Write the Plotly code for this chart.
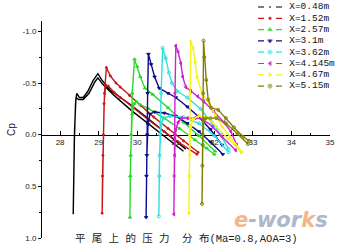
import plotly.graph_objects as go

# ---------------- data ----------------
station_names = ["X=0.48m", "X=1.52m", "X=2.57m", "X=3.1m",
                 "X=3.62m", "X=4.145m", "X=4.67m", "X=5.15m"]

# X=0.48m
x048_up = [28.34, 28.35, 28.37, 28.40, 28.43, 28.50, 28.60, 28.72, 28.85, 28.98, 29.08, 29.30, 29.60, 29.83, 30.20, 30.60, 31.00, 31.26]
cp048_up = [0.77, 0.45, 0.05, -0.30, -0.40, -0.36, -0.36, -0.42, -0.52, -0.59, -0.53, -0.43, -0.35, -0.29, -0.18, -0.06, 0.06, 0.14]
x048_lo = [28.34, 28.37, 28.41, 28.48, 28.60, 28.75, 28.90, 28.98, 29.10, 29.40, 29.83, 30.30, 30.80, 31.20]
cp048_lo = [0.77, 0.00, -0.36, -0.34, -0.34, -0.40, -0.51, -0.55, -0.49, -0.38, -0.24, -0.10, 0.05, 0.16]

# X=1.52m
x152_up = [29.09, 29.10, 29.12, 29.15, 29.20, 29.30, 29.45, 29.56, 29.80, 30.10, 30.43, 30.80, 31.20, 31.58]
cp152_up = [0.76, 0.40, 0.00, -0.40, -0.65, -0.57, -0.50, -0.46, -0.38, -0.28, -0.17, -0.06, 0.06, 0.17]
x152_lo = [29.09, 29.11, 29.14, 29.18, 29.25, 29.40, 29.56, 29.90, 30.30, 30.70, 31.10, 31.55]
cp152_lo = [0.76, 0.20, -0.30, -0.48, -0.47, -0.41, -0.36, -0.26, -0.14, -0.03, 0.08, 0.19]

# X=2.57m
x257_up = [29.81, 29.82, 29.84, 29.87, 29.93, 30.00, 30.08, 30.20, 30.40, 30.80, 31.20, 31.60, 32.02]
cp257_up = [0.80, 0.40, 0.00, -0.40, -0.73, -0.66, -0.56, -0.45, -0.39, -0.26, -0.12, 0.01, 0.16]
x257_lo = [29.81, 29.83, 29.87, 29.92, 29.98, 30.08, 30.30, 30.70, 31.10, 31.50, 31.80, 32.00]
cp257_lo = [0.80, 0.20, -0.20, -0.30, -0.32, -0.29, -0.25, -0.16, -0.06, 0.05, 0.13, 0.19]

# X=3.1m
x310_up = [30.23, 30.24, 30.26, 30.27, 30.29, 30.36, 30.45, 30.57, 30.80, 31.00, 31.30, 31.60, 31.90, 32.20]
cp310_up = [0.80, 0.40, 0.00, -0.40, -0.78, -0.68, -0.56, -0.45, -0.40, -0.36, -0.27, -0.17, -0.05, 0.10]
x310_lo = [30.23, 30.25, 30.28, 30.33, 30.45, 30.70, 31.00, 31.30, 31.60, 31.90, 32.22]
cp310_lo = [0.80, 0.20, -0.10, -0.20, -0.22, -0.21, -0.18, -0.11, -0.03, 0.07, 0.19]

# X=3.62m
x362_up = [30.56, 30.57, 30.59, 30.62, 30.66, 30.74, 30.82, 30.90, 31.04, 31.30, 31.64, 31.93, 32.16, 32.37]
cp362_up = [0.79, 0.40, 0.00, -0.40, -0.84, -0.74, -0.60, -0.50, -0.42, -0.36, -0.25, -0.12, 0.00, 0.14]
x362_lo = [30.56, 30.58, 30.62, 30.68, 30.85, 31.20, 31.60, 32.00, 32.37]
cp362_lo = [0.79, 0.20, -0.10, -0.16, -0.18, -0.17, -0.11, 0.01, 0.17]

# X=4.145m
x4145_up = [30.95, 30.96, 30.97, 30.98, 31.00, 31.06, 31.13, 31.18, 31.26, 31.39, 31.57, 31.73, 31.99, 32.25, 32.43, 32.58]
cp4145_up = [0.77, 0.40, 0.00, -0.40, -0.86, -0.80, -0.69, -0.56, -0.46, -0.42, -0.37, -0.32, -0.22, -0.12, -0.03, 0.10]
x4145_lo = [30.95, 30.97, 31.00, 31.06, 31.15, 31.30, 31.50, 31.70, 31.95, 32.20, 32.55]
cp4145_lo = [0.77, 0.20, -0.05, -0.12, -0.16, -0.16, -0.16, -0.15, -0.08, 0.02, 0.15]

# X=4.67m
x467_up = [31.34, 31.35, 31.36, 31.37, 31.39, 31.45, 31.50, 31.55, 31.68, 31.86, 32.02, 32.20, 32.41, 32.72]
cp467_up = [0.76, 0.40, 0.00, -0.40, -0.90, -0.84, -0.70, -0.56, -0.40, -0.31, -0.19, -0.08, 0.02, 0.17]
x467_lo = [31.34, 31.36, 31.39, 31.45, 31.60, 31.80, 32.05, 32.35, 32.70]
cp467_lo = [0.76, 0.20, -0.08, -0.15, -0.18, -0.17, -0.08, 0.04, 0.17]

# X=5.15m
x515_up = [31.68, 31.69, 31.70, 31.71, 31.72, 31.74, 31.79, 31.84, 31.92, 32.10, 32.30, 32.51, 32.75, 32.90]
cp515_up = [0.67, 0.30, 0.00, -0.40, -0.91, -0.75, -0.53, -0.34, -0.26, -0.24, -0.16, -0.07, 0.02, 0.06]
x515_lo = [31.68, 31.70, 31.72, 31.78, 31.90, 32.05, 32.30, 32.60, 32.87]
cp515_lo = [0.67, 0.10, -0.12, -0.16, -0.16, -0.16, -0.11, -0.01, 0.09]

x_tick_vals = [28, 29, 30, 31, 32, 33, 34, 35]
x_minor_vals = [28.5, 29.5, 30.5, 31.5, 32.5, 33.5, 34.5]
y_tick_vals = [-1.0, -0.5, 0.0, 0.5, 1.0]
y_tick_text = ["-1.0", "-0.5", "0.0", "0.5", "1.0"]
y_minor_vals = [-0.75, -0.25, 0.25, 0.75]
x_range = [27.53, 35.0]
y_range = [1.0, -1.1]

x_title = "平 尾 上 的 压 力  分 布(Ma=0.8,AOA=3)"
y_title = "Cp"

# ---------------- style ----------------
colors = ["#000000", "#c81818", "#2ed82e", "#0c0c8c",
          "#30dede", "#d024d0", "#f4f41a", "#808000"]
symbols = ["circle", "circle", "triangle-up", "triangle-down",
           "circle-open", "triangle-left", "triangle-right", "circle-open"]
msizes = [0, 2, 3, 3, 3, 3, 3, 3]
leg_msizes = [0, 2.5, 4, 4, 4, 4, 4, 4]

W, H = 352, 249
ML, MR, MT, MB = 42, 22, 0, 11
plot_w = W - ML - MR
plot_h = H - MT - MB
y_dom_top = (plot_h - 21) / plot_h
x_axis_pos = y_dom_top * (y_range[0] - 0.0) / (y_range[0] - y_range[1])

series = [
    (x048_up, cp048_up, x048_lo, cp048_lo),
    (x152_up, cp152_up, x152_lo, cp152_lo),
    (x257_up, cp257_up, x257_lo, cp257_lo),
    (x310_up, cp310_up, x310_lo, cp310_lo),
    (x362_up, cp362_up, x362_lo, cp362_lo),
    (x4145_up, cp4145_up, x4145_lo, cp4145_lo),
    (x467_up, cp467_up, x467_lo, cp467_lo),
    (x515_up, cp515_up, x515_lo, cp515_lo),
]

fig = go.Figure()

for i, (xu, cu, xl, cl) in enumerate(series):
    xs = list(reversed(xu)) + xl[1:]
    ys = list(reversed(cu)) + cl[1:]
    fig.add_trace(go.Scatter(
        x=xs, y=ys, mode="lines+markers" if msizes[i] > 0 else "lines",
        line=dict(color=colors[i], width=1.4),
        marker=dict(symbol=symbols[i], size=msizes[i], color=colors[i],
                    line=dict(color=colors[i], width=1)),
        showlegend=False, hoverinfo="skip", xaxis="x", yaxis="y"))

# custom compact legend drawn on its own small axes (1 unit = 24 px)
n = len(station_names)
leg_left_px, leg_right_px, leg_unit_px = 258, 345, 24
for i in range(n):
    fig.add_trace(go.Scatter(
        x=[0, 0.5, 1], y=[i, i, i], mode="lines+markers",
        line=dict(color=colors[i], width=1.2, dash="6px,5px,2px,5px"),
        marker=dict(symbol=symbols[i], size=[0, leg_msizes[i], 0], color=colors[i],
                    line=dict(color=colors[i], width=1)),
        showlegend=False, hoverinfo="skip", xaxis="x2", yaxis="y2",
        cliponaxis=False))
fig.add_trace(go.Scatter(
    x=[1.3] * n, y=list(range(n)), mode="text", text=station_names,
    textposition="middle right",
    textfont=dict(family="Liberation Mono, DejaVu Sans Mono, monospace", size=9.5, color="#111"),
    showlegend=False, hoverinfo="skip", xaxis="x2", yaxis="y2", cliponaxis=False))

leg_top_px, leg_step = 7, 11.3
leg_dom = [(plot_h - (leg_top_px + leg_step * (n - 1) + leg_step / 2)) / plot_h,
           (plot_h - (leg_top_px - leg_step / 2)) / plot_h]

tick_font = dict(family="Liberation Sans, Arial, sans-serif", size=8, color="#222")

fig.update_layout(
    width=W, height=H,
    margin=dict(l=ML, r=MR, t=MT, b=MB, pad=0),
    paper_bgcolor="white", plot_bgcolor="white",
    showlegend=False,
    xaxis=dict(
        range=x_range, domain=[0, 1], anchor="free", position=x_axis_pos,
        tickmode="array", tickvals=x_tick_vals,
        ticks="inside", ticklen=4, tickwidth=1, tickcolor="black",
        minor=dict(tickmode="array", tickvals=x_minor_vals, ticks="inside",
                   ticklen=2, tickcolor="black"),
        showline=True, linecolor="black", linewidth=1,
        showgrid=False, zeroline=False, tickfont=tick_font,
        layer="below traces"),
    yaxis=dict(
        range=y_range, domain=[0, y_dom_top], anchor="x",
        tickmode="array", tickvals=y_tick_vals, ticktext=y_tick_text,
        ticks="outside", ticklen=3, tickwidth=1, tickcolor="black",
        minor=dict(tickmode="array", tickvals=y_minor_vals, ticks="outside",
                   ticklen=2, tickcolor="black"),
        showline=True, linecolor="black", linewidth=1,
        showgrid=False, zeroline=False, tickfont=tick_font,
        title=dict(text=y_title, standoff=5,
                   font=dict(family="Liberation Sans, Arial, sans-serif", size=10, color="#222"))),
    xaxis2=dict(domain=[(leg_left_px - ML) / plot_w, min(1.0, (leg_right_px - ML) / plot_w)],
                range=[0, (min(W - MR, leg_right_px) - leg_left_px) / leg_unit_px],
                anchor="y2", visible=False, fixedrange=True),
    yaxis2=dict(domain=leg_dom, range=[n - 0.5, -0.5], anchor="x2",
                visible=False, fixedrange=True),
    annotations=[
        dict(text=x_title, xref="paper", yref="paper", x=0.5, y=0,
             xanchor="center", yanchor="middle", showarrow=False,
             font=dict(family="Liberation Mono, Noto Sans CJK SC, monospace", size=10.5, color="#222")),
        dict(text='<b><i><span style="color:#f2a468">e</span><span style="color:#98a6bc">-wor</span>'
                  '<span style="color:#f2a468">k</span><span style="color:#98a6bc">s</span></i></b>',
             xref="paper", yref="paper", x=(281 - ML) / plot_w, y=(plot_h - 220) / plot_h,
             xanchor="center", yanchor="middle", showarrow=False, opacity=0.8,
             font=dict(family="DejaVu Sans, sans-serif", size=21)),
    ],
)

fig.write_html("out.html")
